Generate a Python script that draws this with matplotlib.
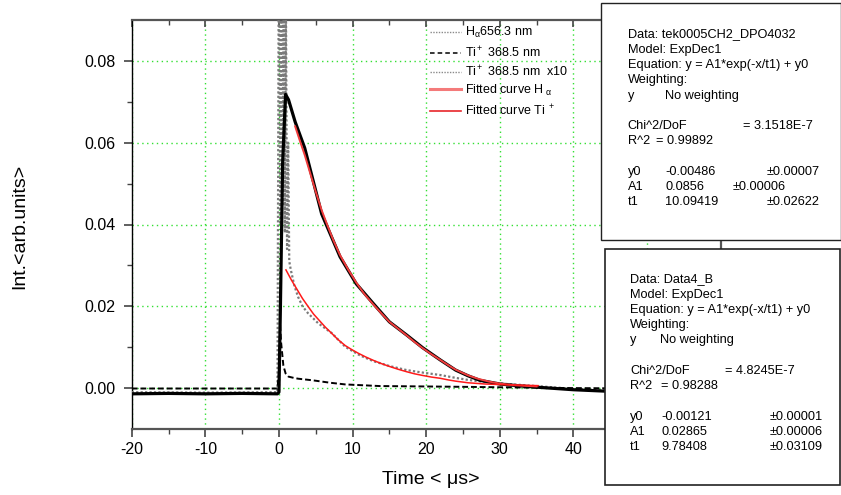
import matplotlib
matplotlib.use("Agg")
import matplotlib.pyplot as plt
from matplotlib.lines import Line2D
from matplotlib.patches import Rectangle

plt.rcParams['font.family'] = ['Liberation Sans', 'DejaVu Sans']
plt.rcParams['mathtext.fontset'] = 'custom'
plt.rcParams['mathtext.rm'] = 'Liberation Sans'
plt.rcParams['mathtext.it'] = 'Liberation Sans'
plt.rcParams['mathtext.bf'] = 'Liberation Sans:bold'
plt.rcParams['axes.unicode_minus'] = False

# ---------------- data ----------------
t_ha = [-20, -15, -10, -5, -0.2, 0.0, 0.2, 0.5, 0.9, 1.3, 2.2, 3.5, 5.8, 8.3, 10.5,
        12.8, 15, 17.4, 19.5, 21.9, 24, 25.7, 27.3, 30, 33, 36, 40, 45, 50, 55, 60]
y_ha = [-0.0014, -0.0013, -0.0014, -0.0013, -0.0014, -0.0010, 0.0200, 0.0550, 0.0718,
        0.0705, 0.0651, 0.0587, 0.0426, 0.0321, 0.0255, 0.0207, 0.0162, 0.0129, 0.0099,
        0.0069, 0.0044, 0.0030, 0.0019, 0.0010, 0.0005, 0.0001, -0.0004, -0.0008,
        -0.0009, -0.0009, -0.0009]

t_ti = [-20, -10, -0.2, 0.0, 0.15, 0.3, 0.6, 0.9, 1.3, 2.0, 2.6, 4.6, 7, 9, 13.7,
        20, 25.7, 30, 40, 50, 60]
y_ti = [-0.0001, -0.0001, -0.0001, 0.0040, 0.0155, 0.0110, 0.0055, 0.0036, 0.0028,
        0.0025, 0.0023, 0.0019, 0.0013, 0.0009, 0.0005, 0.0004, 0.0003, 0.0002, 0.0,
        -0.0001, -0.0001]

t_x10 = [-20, -10, -0.2, 0.0, 0.2, 0.35, 0.5, 0.65, 0.8, 0.95, 1.1, 1.25, 1.4, 1.6,
         2.1, 2.6, 3.2, 3.95, 5.3, 7.2, 9.0, 11, 12.8, 15, 17.35, 19.5, 21.9, 24,
         25.7, 28, 31, 35, 40, 45, 50, 60]
y_x10 = [-0.0010, -0.0011, -0.0010, 0.1200, 0.0400, 0.1200, 0.0450, 0.1000, 0.0380,
         0.0950, 0.0340, 0.0600, 0.0310, 0.0290, 0.0250, 0.0223, 0.0200, 0.0183,
         0.0159, 0.0134, 0.0101, 0.0080, 0.0066, 0.0054, 0.0044, 0.0038, 0.0032,
         0.0025, 0.0020, 0.0015, 0.0010, 0.0005, -0.0002, -0.0006, -0.0008, -0.0008]

t_fit1 = [2.2, 2.8, 3.5, 4.3, 5.0, 5.8, 6.6, 7.4, 8.3, 9.4, 10.5, 11.6, 12.8, 13.9,
          15, 16.2, 17.4, 18.4, 19.5, 20.7, 21.9, 23, 24, 25.7, 27, 28.5, 30, 32, 35]
y_fit1 = [0.0640, 0.0607, 0.0570, 0.0522, 0.0480, 0.0435, 0.0397, 0.0361, 0.0325,
          0.0290, 0.0258, 0.0230, 0.0205, 0.0183, 0.0162, 0.0145, 0.0128, 0.0113,
          0.0098, 0.0083, 0.0069, 0.0056, 0.0045, 0.0031, 0.0023, 0.0016, 0.0011,
          0.0007, 0.0004]

t_fit2 = [0.95, 1.7, 2.5, 3.2, 3.98, 4.7, 5.5, 6.3, 7.16, 8.0, 9.0, 9.9, 10.8, 11.8,
          12.8, 13.9, 15, 16.2, 17.35, 18.4, 19.5, 20.7, 21.9, 23, 24, 25.7, 28, 31,
          35.2]
y_fit2 = [0.0289, 0.0264, 0.0240, 0.0219, 0.0199, 0.0181, 0.0165, 0.0149, 0.0134,
          0.0119, 0.0104, 0.0094, 0.0085, 0.0076, 0.0068, 0.0060, 0.0053, 0.0046,
          0.0040, 0.0035, 0.0031, 0.0027, 0.0024, 0.0020, 0.0017, 0.0013, 0.0010,
          0.0008, 0.0006]

x_ticks = [-20, -10, 0, 10, 20, 30, 40, 50, 60]
x_tick_labels = ["-20", "-10", "0", "10", "20", "30", "40", "", ""]  # 50, 60 hidden by box
y_ticks = [0.00, 0.02, 0.04, 0.06, 0.08]
y_tick_labels = ["0.00", "0.02", "0.04", "0.06", "0.08"]

legend_labels = [r"H$_\alpha$656.3 nm", r"Ti$^+$ 368.5 nm", r"Ti$^+$ 368.5 nm  x10",
                 r"Fitted curve H$_{\ \alpha}$", r"Fitted curve Ti$^{\ +}$"]

box1_rows = [["Data: tek0005CH2_DPO4032"], ["Model: ExpDec1"],
             ["Equation: y = A1*exp(-x/t1) + y0"], ["Weighting:"],
             ["y", "No weighting"], [], ["Chi^2/DoF", "= 3.1518E-7"],
             ["R^2", "= 0.99892"], [], ["y0", "-0.00486", "\u00b10.00007"],
             ["A1", "0.0856", "\u00b10.00006"], ["t1", "10.09419", "\u00b10.02622"]]
box2_rows = [["Data: Data4_B"], ["Model: ExpDec1"],
             ["Equation: y = A1*exp(-x/t1) + y0"], ["Weighting:"],
             ["y", "No weighting"], [], ["Chi^2/DoF", "= 4.8245E-7"],
             ["R^2", "= 0.98288"], [], ["y0", "-0.00121", "\u00b10.00001"],
             ["A1", "0.02865", "\u00b10.00006"], ["t1", "9.78408", "\u00b10.03109"]]

# ---------------- figure ----------------
W, H = 841, 495
fig = plt.figure(figsize=(W / 100, H / 100), dpi=100)


def fx(x):
    return x / W


def fy(y):
    return 1 - y / H


ax = fig.add_axes([fx(131.7), fy(429), fx(720.7) - fx(131.7), fy(20) - fy(429)])
ax.set_xlim(-20, 60)
ax.set_ylim(-0.01, 0.09)

ax.plot(t_x10, y_x10, color='#7a7a7a', ls=(0, (1, 1)), lw=1.6, zorder=3)
ax.plot(t_ha, y_ha, color='black', lw=2.3, zorder=4)
ax.plot(t_ti, y_ti, color='black', ls=(0, (3, 1.5)), lw=1.4, zorder=5)
ax.plot(t_fit1, y_fit1, color='#f03c3c', lw=1.4, zorder=6)
ax.plot(t_fit2, y_fit2, color='#ff1a1a', lw=1.1, zorder=6)

ax.set_xticks(x_ticks)
ax.set_xticklabels(x_tick_labels)
ax.set_xticks([v + 5 for v in x_ticks[:-1]], minor=True)
ax.set_yticks(y_ticks)
ax.set_yticklabels(y_tick_labels)
ax.set_yticks([0.01, 0.03, 0.05, 0.07], minor=True)
ax.grid(True, which='major', color='#33e033', ls=(0, (1, 2.5)), lw=1.0)
ax.set_axisbelow(True)

ax.tick_params(axis='x', which='major', direction='out', length=6, width=1.2,
               color='#444444', labelsize=11.5, pad=3.5, top=True)
ax.tick_params(axis='x', which='minor', direction='out', length=3.5, width=1.0,
               color='#444444', top=True)
ax.tick_params(axis='y', which='major', direction='out', length=6, width=1.2,
               color='#444444', labelsize=11.5, pad=5.5)
ax.tick_params(axis='y', which='minor', direction='out', length=3.5, width=1.0,
               color='#444444')
# top ticks go inward
for tl in ax.xaxis.get_major_ticks():
    tl.tick2line.set_marker(3)
    tl.tick2line.set_markersize(5)
for tl in ax.xaxis.get_minor_ticks():
    tl.tick2line.set_marker(3)
    tl.tick2line.set_markersize(3.5)

ax.spines['left'].set_color('black')
ax.spines['left'].set_linewidth(1.0)
for s in ['top', 'bottom', 'right']:
    ax.spines[s].set_color('#555555')
    ax.spines[s].set_linewidth(1.6)

fig.text(fx(430.9), fy(480), "Time < \u03bcs>", ha='center', va='center', fontsize=14)
fig.text(fx(20), fy(226), "Int.<arb.units>", ha='center', va='center',
         rotation=90, fontsize=14)

# ---------------- manual legend ----------------
leg_styles = [dict(color='#8a8a8a', ls=(0, (1, 1)), lw=1.0),
              dict(color='black', ls=(0, (3, 2)), lw=1.1),
              dict(color='#8a8a8a', ls=(0, (1, 1)), lw=1.0),
              dict(color='#f47a7a', ls='-', lw=2.2),
              dict(color='#e8262b', ls='-', lw=1.2)]
leg_y = [31.7, 52.8, 71.7, 89.3, 111.0]
for lab, st, yy in zip(legend_labels, leg_styles, leg_y):
    fig.add_artist(Line2D([fx(430), fx(461)], [fy(yy), fy(yy)],
                          transform=fig.transFigure, zorder=8, **st))
    fig.text(fx(465), fy(yy + 4.4), lab, ha='left', va='baseline', fontsize=9,
             zorder=8)

# ---------------- fit parameter boxes ----------------
box1_x = [[627.7], [627.7], [627.7], [627.7], [627.7, 665], [], [627.7, 743.3],
          [627.7, 656], [], [627.7, 665, 766.7], [627.7, 665, 732.7],
          [627.7, 665, 766.7]]
box2_x = [[630], [630], [630], [630], [630, 660], [], [630, 725], [630, 661], [],
          [630, 661, 770], [630, 661, 770], [630, 661, 770]]


def draw_box(x0, y0, x1, y1, rows, xcols, ystart, lw):
    fig.add_artist(Rectangle((fx(x0), fy(y1)), fx(x1) - fx(x0), fy(y0) - fy(y1),
                             transform=fig.transFigure, facecolor='white',
                             edgecolor='#222222', lw=lw, zorder=10))
    for i, (row, xs) in enumerate(zip(rows, xcols)):
        yy = ystart + i * 15.25
        for txt, xc in zip(row, xs):
            fig.text(fx(xc), fy(yy), txt, ha='left', va='center', fontsize=9.2,
                     zorder=11)


draw_box(601, 3, 840.5, 240, box1_rows, box1_x, 34.5, 1.0)
draw_box(605, 249, 840, 485, box2_rows, box2_x, 279.3, 1.2)

fig.savefig("out.png", dpi=100)
